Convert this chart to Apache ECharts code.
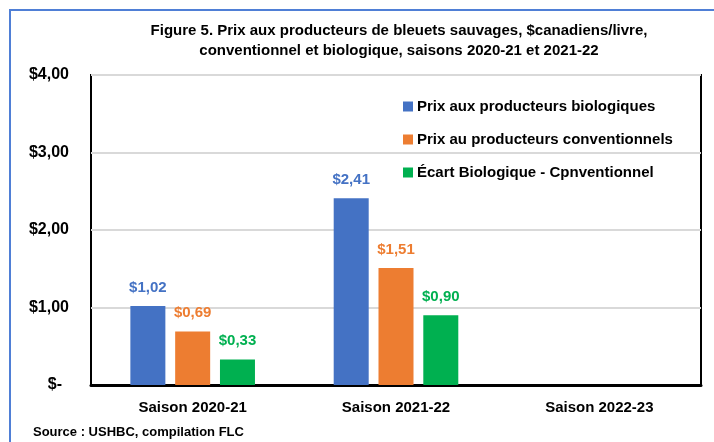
<!DOCTYPE html>
<html>
<head>
<meta charset="utf-8">
<script src="https://cdn.jsdelivr.net/npm/echarts@6/dist/echarts.min.js"></script>
<style>
    html,body{margin:0;padding:0;background:#fff;}
    #chart{width:714px;height:442px;}
</style>
</head>
<body>
<div id="chart"></div>
<script>
// données
var saisons = ["Saison 2020-21", "Saison 2021-22", "Saison 2022-23"];
var prixBio = [1.02, 2.41, null];
var prixConv = [0.69, 1.51, null];
var ecart = [0.33, 0.90, null];
var nomsSeries = ["Prix aux producteurs biologiques", "Prix au producteurs conventionnels", "Écart Biologique - Cpnventionnel"];
var couleurs = ["#4472C4", "#ED7D31", "#00B050"];

var police = "'Liberation Sans', Arial, sans-serif";

function fmtDollar(v){
    if(v === 0) return "$-";
    return "$" + v.toFixed(2).replace(".", ",");
}

function makeSerie(nom, data, couleur){
    return {
        name: nom,
        type: 'bar',
        data: data,
        barWidth: 35,
        barGap: '28%',
        itemStyle: {color: couleur},
        label: {
            show: true,
            position: 'top',
            distance: 11,
            color: couleur,
            fontFamily: police,
            fontWeight: 'bold',
            fontSize: 15,
            formatter: function(p){ return fmtDollar(p.value); }
        }
    };
}

var chart = echarts.init(document.getElementById('chart'));
var option = {
    backgroundColor: '#fff',
    animation: false,
    title: {
        text: "Figure 5. Prix aux producteurs de bleuets sauvages, $canadiens/livre,\nconventionnel et biologique, saisons 2020-21 et 2021-22",
        left: 394,
        top: 16,
        textAlign: 'center',
        textStyle: {
            fontFamily: police,
            fontWeight: 'bold',
            fontSize: 15,
            lineHeight: 20,
            color: '#000'
        }
    },
    legend: {
        orient: 'vertical',
        left: 403,
        top: 99,
        padding: 0,
        itemWidth: 10,
        itemHeight: 10,
        itemGap: 18,
        icon: 'rect',
        textStyle: {
            fontFamily: police,
            fontWeight: 'bold',
            fontSize: 15,
            color: '#000',
            padding: [0, 0, 0, -1]
        },
        data: nomsSeries
    },
    grid: {
        left: 91,
        right: 13,
        top: 75,
        bottom: 57,
        show: true,
        borderColor: '#000',
        borderWidth: 2
    },
    xAxis: {
        type: 'category',
        data: saisons,
        axisTick: {show: false},
        axisLine: {lineStyle: {color: '#000', width: 3}},
        axisLabel: {
            margin: 15,
            fontFamily: police,
            fontWeight: 'bold',
            fontSize: 15,
            color: '#000'
        }
    },
    yAxis: {
        type: 'value',
        min: 0,
        max: 4,
        interval: 1,
        axisLine: {show: false},
        axisTick: {show: false},
        splitLine: {lineStyle: {color: '#d9d9d9', width: 2}},
        axisLabel: {
            margin: 22,
            fontFamily: police,
            fontWeight: 'bold',
            fontSize: 16,
            color: '#000',
            formatter: function(v){
                // le zéro est décalé comme dans le format comptable
                return v === 0 ? '{z|$-}' : fmtDollar(v);
            },
            rich: {
                z: {
                    fontFamily: police,
                    fontWeight: 'bold',
                    fontSize: 16,
                    color: '#000',
                    padding: [0, 7, 0, 0]
                }
            }
        }
    },
    graphic: [
        {
            type: 'rect',
            shape: {x: 10, y: 10, width: 720, height: 450},
            style: {fill: 'none', stroke: '#4F7FD6', lineWidth: 2}
        },
        {
            type: 'text',
            left: 33,
            top: 426,
            style: {
                text: 'Source : USHBC, compilation FLC',
                fontFamily: police,
                fontWeight: 'bold',
                fontSize: 13,
                fill: '#000'
            }
        }
    ],
    series: [
        makeSerie(nomsSeries[0], prixBio, couleurs[0]),
        makeSerie(nomsSeries[1], prixConv, couleurs[1]),
        makeSerie(nomsSeries[2], ecart, couleurs[2])
    ]
};
chart.setOption(option);
</script>
</body>
</html>
